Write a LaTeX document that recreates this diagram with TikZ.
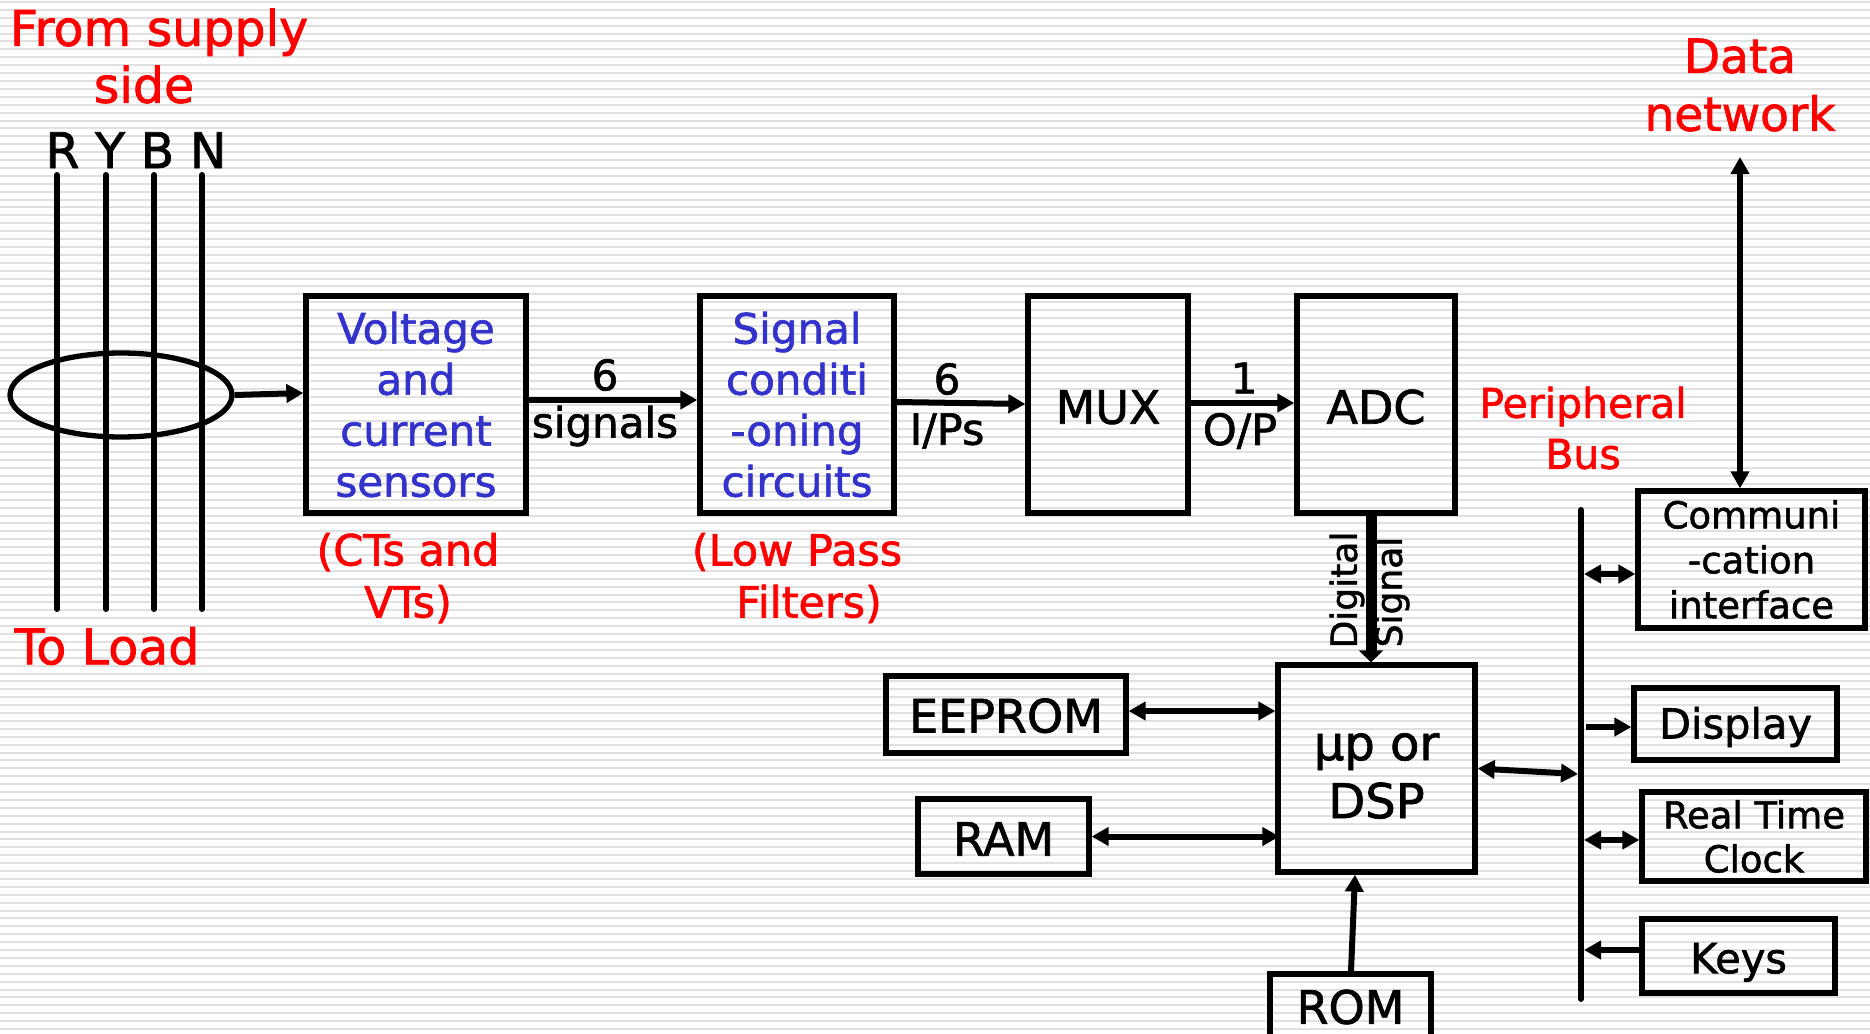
\documentclass[tikz,border=0pt]{standalone}
\usepackage{fontspec}
\setmainfont{DejaVu Sans}[FakeBold=1.5]
\usetikzlibrary{arrows.meta,shapes.geometric,calc}
\definecolor{tblue}{RGB}{51,51,204}
\definecolor{stripecol}{RGB}{224,224,224}
\newcommand{\fs}[2]{\fontsize{#1}{#2}\selectfont}
\tikzset{
  blk/.style={draw, line width=5.3pt, inner sep=0pt, align=center, font=\fs{46}{54}},
  lbl/.style={inner sep=0pt, align=center},
  arr/.style={line width=6pt, -{Triangle[length=17pt,width=18pt]}},
  darr/.style={line width=6pt, {Triangle[length=17pt,width=18pt]}-{Triangle[length=17pt,width=18pt]}},
  thickarr/.style={line width=11pt, -{Triangle[length=12pt,width=24pt]}},
  wire/.style={line width=6pt, line cap=round},
  bl/.style={text height=#1, text depth=0pt},
}
\begin{document}
\begin{tikzpicture}[x=1pt,y=-1pt]
\useasboundingbox (0,0) rectangle (1870,1033);
\clip (0,0) rectangle (1870,1033);
\fill[white] (0,0) rectangle (1870,1033);
\foreach \k in {0,...,131} \draw[draw=stripecol, line width=2pt] (0,{\k*7.9+2}) -- (1870,{\k*7.9+2});

% supply side
\node[lbl, text=red, font=\fs{49}{57}] (from) at (159,56) {From supply\\side\hspace*{30pt}};
\node[lbl, font=\fs{49}{57}, anchor=base] (rybn) at (136,168) {R Y B N};
\foreach \x in {57,106,154,202} \draw[wire] (\x,175) -- (\x,609);
\node[draw, ellipse, line width=5.3pt, minimum width=222pt, minimum height=84pt, inner sep=0pt] (ct) at (121,395) {};
\node[lbl, text=red, font=\fs{49}{57}] (load) at (107,646) {To Load};

% top chain
\node[blk, minimum width=220pt, minimum height=217pt, text=tblue, font=\fs{42}{51}] (volt) at (416,404.5) {Voltage\\and\\current\\sensors};
\node[blk, minimum width=194pt, minimum height=217pt, text=tblue, font=\fs{42}{51}] (sig) at (797,404.5) {Signal\\conditi\\-oning\\circuits};
\node[blk, bl=38.4pt, minimum width=160pt, minimum height=217pt] (mux) at (1108,404.5) {MUX};
\node[blk, bl=38.4pt, minimum width=158pt, minimum height=217pt] (adc) at (1376,404.5) {ADC};

\node[lbl, text=red, font=\fs{43}{52}] (ctvt) at (408,578) {(CTs and\\VTs)};
\node[lbl, text=red, font=\fs{43}{52}] (lpf) at (797,578) {(Low Pass\\\hspace*{24pt}Filters)};

\node[lbl, font=\fs{42}{51}] (six1) at (605,375) {6};
\node[lbl, font=\fs{42}{51}] (sigs) at (605,426) {signals};
\node[lbl, font=\fs{42}{51}] (six2) at (947,379) {6};
\node[lbl, font=\fs{43}{51}] (ips) at (947,431) {I/Ps};
\node[lbl, font=\fs{42}{51}] (one) at (1244,378) {1};
\node[lbl, font=\fs{43}{51}] (op) at (1240,431) {O/P};

\draw[arr] (ct.east) -- ($(volt.west)+(0,-11.5)$);
\draw[arr] ($(volt.east)+(0,-4.5)$) -- ($(sig.west)+(0,-4.5)$);
\draw[arr] ($(sig.east)+(0,-2.5)$) -- ($(mux.west)+(0,-0.5)$);
\draw[arr] ($(mux.east)+(0,-1.5)$) -- ($(adc.west)+(0,-1.5)$);

% processor section
\node[blk, minimum width=197pt, minimum height=207pt] (up) at (1376.5,768.5) {};
\node[lbl, font=\fs{48}{58}] (uptxt) at (1376.5,776) {µp or\\DSP};
\node[blk, bl=36pt, minimum width=240pt, minimum height=77pt] (ee) at (1006,714.5) {EEPROM};
\node[blk, bl=38.4pt, minimum width=171pt, minimum height=75pt] (ram) at (1003.5,836.5) {RAM};
\node[blk, minimum width=161pt, minimum height=66pt] (rom) at (1350.5,1007) {ROM};

\draw[thickarr] ($(adc.south)+(-5,0)$) -- ($(up.north)+(-5.5,0)$);
\node[lbl, rotate=90, font=\fs{36}{43}] (dig) at (1347,590) {Digital};
\node[lbl, rotate=90, font=\fs{36}{43}] (sgl) at (1392,592) {Signal};

\draw[darr] ($(ee.east)+(0,-3.5)$) -- ($(up.west |- ee.east)+(0,-3.5)$);
\draw[darr] (ram.east) -- ($(up.west |- ram.east)+(4,0)$);
\draw[arr] ($(rom.north)+(0.5,0)$) -- ($(up.south)+(-21.5,0)$);

% peripheral bus
\node[lbl, text=red, font=\fs{41}{51}] (periph) at (1583,428) {Peripheral\\Bus};
\node[lbl, text=red, font=\fs{47}{58}] (datanet) at (1740,85) {Data\\network};
\coordinate (busT) at (1581,510);
\coordinate (busB) at (1581,999);
\coordinate (busR) at (1584,0);
\coordinate (busL) at (1578,0);
\coordinate (netend) at (1740,157);
\draw[wire] (busT) -- (busB);

\node[blk, minimum width=227pt, minimum height=137pt, font=\fs{37}{45}] (comm) at (1751.5,559.5) {Communi\\-cation\\interface};
\node[blk, bl=29pt, minimum width=203pt, minimum height=72pt, font=\fs{41.5}{50}] (disp) at (1735.5,724) {Display};
\node[blk, minimum width=224pt, minimum height=89pt, font=\fs{37}{44}] (rtc) at (1754,836.5) {Real Time\\Clock};
\node[blk, bl=34.4pt, minimum width=193pt, minimum height=74pt, font=\fs{41.5}{50}] (keys) at (1738.5,956) {Keys};

\draw[darr] ($(comm.north)+(-11.5,0)$) -- (netend);
\draw[darr] ($(comm.west)+(0,14.5)$) -- ($(busR |- comm.west)+(0,14.5)$);
\draw[arr] ($(busR |- disp.west)+(2,3)$) -- ($(disp.west)+(0,3)$);
\draw[darr] ($(busR |- rtc.west)+(0,3.5)$) -- ($(rtc.west)+(0,3.5)$);
\draw[arr] ($(keys.west)+(0,-6)$) -- ($(busR |- keys.west)+(0,-6)$);
\draw[darr] (up.east) -- ($(busL |- up.east)+(0,5.5)$);
\end{tikzpicture}
\end{document}
